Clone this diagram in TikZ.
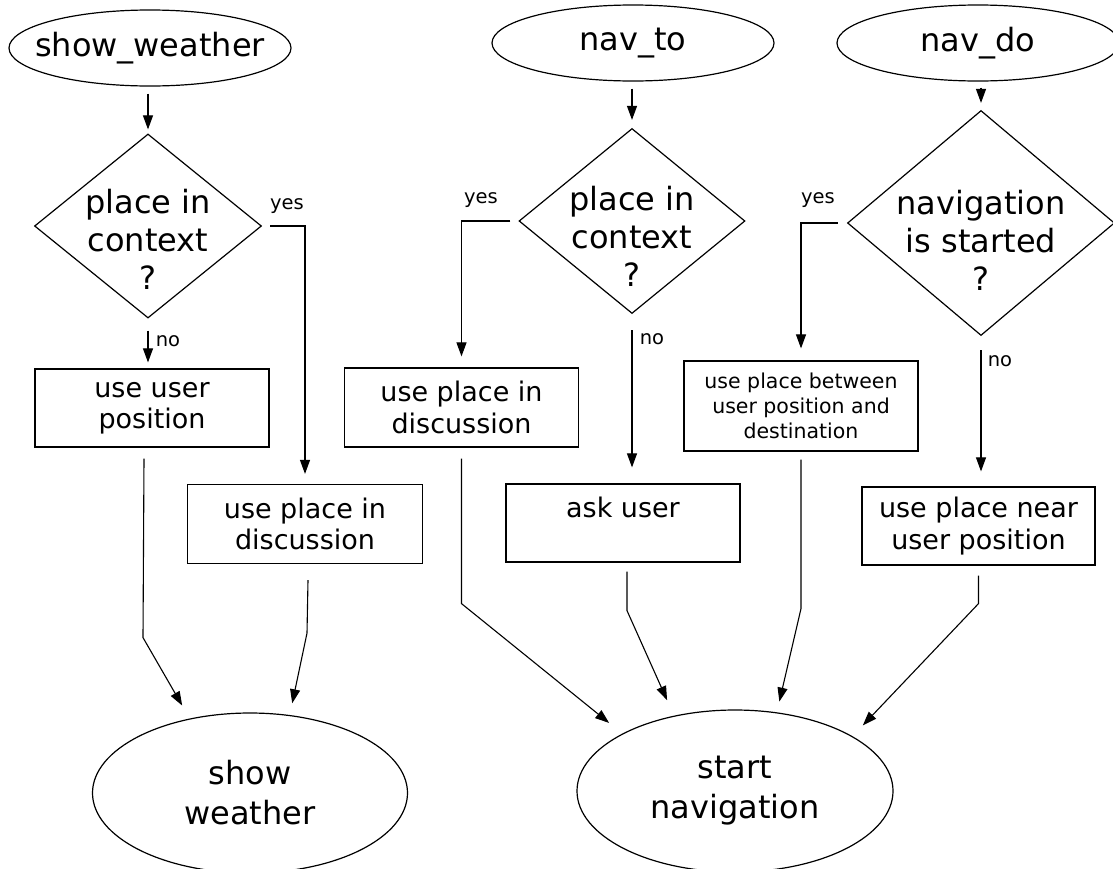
\documentclass[tikz,border=0pt]{standalone}
\usepackage{fontspec}
\setmainfont{DejaVu Sans}
\usetikzlibrary{arrows.meta,positioning,shapes.geometric}

\begin{document}
\begin{tikzpicture}[
  x=1pt, y=-1pt,
  trigger/.style={draw, ellipse, line width=1.2pt, minimum width=282pt, minimum height=76pt, inner sep=0pt},
  result/.style={draw, ellipse, line width=1.2pt, minimum width=316pt, minimum height=162pt, align=center, font=\fontsize{32}{40}\selectfont},
  test/.style={draw, diamond, line width=1.2pt, inner sep=0pt},
  action/.style={draw, line width=1.2pt, minimum width=234pt, minimum height=78pt, align=center, font=\fontsize{27}{31.5}\selectfont},
  big/.style={align=center, font=\fontsize{32}{38}\selectfont},
  tag/.style={font=\fontsize{19.5}{23}\selectfont},
  flow/.style={-{Triangle[length=14pt, width=10pt]}, line width=1.1pt}
]
  \path[use as bounding box, fill=white] (0,0) rectangle (1113,868);

  % intents
  \node[trigger] (swt) at (150,48) {};
  \node[big] (swtx) at (swt) {show\_weather};
  \node[trigger] (ntt) at (633,43) {};
  \node[big] (nttx) at (ntt) {nav\_to};
  \node[trigger] (ndt) at (978,43) {};
  \node[big] (ndtx) at (ndt) {nav\_do};

  % questions
  \node[test, minimum width=227pt, minimum height=184pt] (d1) at (148,226) {};
  \node[big] (d1x) at (148,239) {place in\\context\\?};
  \node[test, minimum width=226pt, minimum height=185pt] (d2) at (632,221) {};
  \node[big] (d2x) at (632,236) {place in\\context\\?};
  \node[test, minimum width=267pt, minimum height=225pt] (d3) at (981,223) {};
  \node[big] (d3x) at (981,240) {navigation\\is started\\?};

  % actions
  \node[action] (uup) at (152,408) {use user\\position};
  \node[action, minimum width=235pt, minimum height=79pt] (dis1) at (305,524) {use place in\\discussion};
  \node[action, minimum height=79pt] (dis2) at (461.5,407.5) {use place in\\discussion};
  \node[action] (ask) at (623,523) {ask user\\\mbox{}};
  \node[action, minimum height=90pt, font=\fontsize{20.5}{25}\selectfont] (btw) at (801,406) {use place between\\user position and\\destination};
  \node[action, minimum width=233pt] (near) at (978.5,526) {use place near\\user position};

  % outcomes
  \node[result, minimum width=315pt, minimum height=160pt] (swb) at (250,793) {show\\weather};
  \node[result] (nav) at (735,791) {start\\navigation};

  % branch labels
  \node[tag] (yes1) at (287,206) {yes};
  \node[tag] (no1) at (168,341) {no};
  \node[tag] (yes2) at (481,200) {yes};
  \node[tag] (no2) at (652,339) {no};
  \node[tag] (yes3) at (818,200) {yes};
  \node[tag] (no3) at (1000,361) {no};

  % intent -> question
  \draw[flow, shorten <=7pt, shorten >=4pt] (swt.south -| d1.north) -- (d1.north);
  \draw[flow, shorten <=7pt, shorten >=8pt] (ntt.south -| d2.north) -- (d2.north);
  \draw[flow, shorten <=6pt, shorten >=7pt] (ndt.south -| d3.north) -- (d3.north);

  % yes / no
  \draw[flow, shorten <=8pt, shorten >=10pt] (d1.east) -| (dis1.north);
  \draw[flow, shorten <=12pt, shorten >=6pt] (d1.south) -- (d1.south |- uup.north);
  \draw[flow, shorten <=8pt, shorten >=11pt] (d2.west) -| (dis2.north);
  \draw[flow, shorten <=16pt, shorten >=16pt] (d2.south) -- (d2.south |- ask.north);
  \draw[flow, shorten <=9pt, shorten >=12pt] (d3.west) -| (btw.north);
  \draw[flow, shorten <=14pt, shorten >=15pt] (d3.south) -- (d3.south |- near.north);

  % action -> outcome
  \draw[flow, shorten >=15pt] (uup.south) ++(-8,11) -- ++(-1,179) -- (swb.129);
  \draw[flow, shorten >=12pt] (dis1.south) ++(3,16) -- ++(-1,53) -- (swb.63);
  \draw[flow, shorten >=17pt] (dis2.south) ++(0,11) -- ++(0,145) -- (nav.153);
  \draw[flow, shorten >=17pt] (ask.south) ++(4,9) -- ++(0,39) -- (nav.129);
  \draw[flow, shorten >=11pt] (btw.south) ++(0,8) -- ++(0,149) -- (nav.62);
  \draw[flow, shorten >=15pt] (near.south) ++(0,10) -- ++(0,28) -- (nav.25);
\end{tikzpicture}
\end{document}
